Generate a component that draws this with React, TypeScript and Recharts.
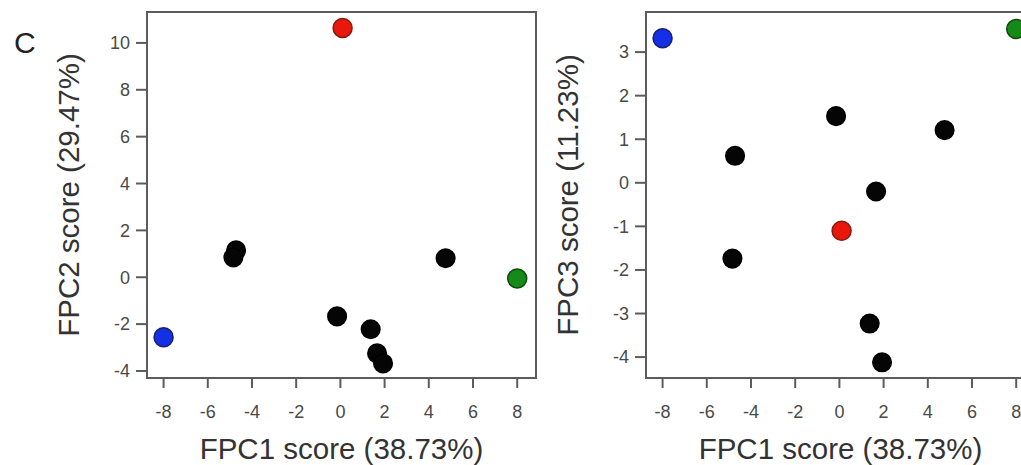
import React from 'react';
import {
  ScatterChart,
  Scatter,
  XAxis,
  YAxis,
  ReferenceArea,
} from 'recharts';

// Sample scores (black points)
const fpc1 = [-4.72, -4.84, -0.15, 4.76, 1.37, 1.66, 1.93];
const fpc2 = [1.15, 0.85, -1.67, 0.81, -2.22, -3.25, -3.68];
const fpc3 = [0.62, -1.74, 1.53, 1.21, -3.23, -0.2, -4.12];

// Highlighted samples
const highlightKeys = ['red', 'blue', 'green'];
const highlightFpc1 = [0.1, -8.0, 8.0];
const highlightFpc2 = [10.64, -2.56, -0.05];
const highlightFpc3 = [-1.1, 3.32, 3.53];

const xTicks = [-8, -6, -4, -2, 0, 2, 4, 6, 8];
const fpc2Ticks = [-4, -2, 0, 2, 4, 6, 8, 10];
const fpc3Ticks = [-4, -3, -2, -1, 0, 1, 2, 3];

const xDomain: [number, number] = [-8.75, 8.85];
const fpc2Domain: [number, number] = [-4.3, 11.32];
const fpc3Domain: [number, number] = [-4.48, 3.92];

const dotStyles: Record<string, { fill: string; stroke: string; r: number }> = {
  black: { fill: '#050505', stroke: '#000', r: 9.3 },
  red: { fill: '#e8180c', stroke: '#8a1a10', r: 9.5 },
  blue: { fill: '#1430e6', stroke: '#1a1d70', r: 9.5 },
  green: { fill: '#168a16', stroke: '#0d4a0d', r: 9.5 },
};

const AXIS = '#5c5c5c';
const TICK_TEXT = '#4a4a4a';
const W = 560;
const H = 465;

const dot = (key: string) => (p: any) => {
  const s = dotStyles[key];
  return <circle cx={p.cx} cy={p.cy} r={s.r} fill={s.fill} stroke={s.stroke} strokeWidth={1.5} />;
};

const XTitle = ({ viewBox }: any) => (
  <text
    x={viewBox.x + viewBox.width / 2}
    y={459}
    textAnchor="middle"
    fontSize={29.5}
    fill="#333"
  >
    FPC1 score (38.73%)
  </text>
);

const yTitle = (value: string) => ({ viewBox }: any) => {
  const cx = 79;
  const cy = viewBox.y + viewBox.height / 2;
  return (
    <text
      x={cx}
      y={cy}
      transform={`rotate(-90, ${cx}, ${cy})`}
      textAnchor="middle"
      fontSize={29.5}
      fill="#333"
    >
      {value}
    </text>
  );
};

interface PanelProps {
  ys: number[];
  highlightYs: number[];
  yDomain: [number, number];
  yTicks: number[];
  yLabel: string;
}

const Panel: React.FC<PanelProps> = ({ ys, highlightYs, yDomain, yTicks, yLabel }) => {
  const black = fpc1.map((x, i) => ({ x, y: ys[i] }));
  return (
    <ScatterChart width={W} height={H} margin={{ top: 12, right: 24, bottom: 0, left: 0 }}>
      <XAxis
        type="number"
        dataKey="x"
        domain={xDomain}
        ticks={xTicks}
        allowDataOverflow
        height={87}
        stroke={AXIS}
        strokeWidth={2}
        tickSize={10}
        tickMargin={17}
        tick={{ fill: TICK_TEXT, fontSize: 18 }}
        tickLine={{ stroke: AXIS, strokeWidth: 2 }}
        label={<XTitle />}
      />
      <YAxis
        type="number"
        dataKey="y"
        domain={yDomain}
        ticks={yTicks}
        allowDataOverflow
        width={147}
        stroke={AXIS}
        strokeWidth={2}
        tickSize={11}
        tickMargin={6}
        tick={{ fill: TICK_TEXT, fontSize: 18 }}
        tickLine={{ stroke: AXIS, strokeWidth: 2 }}
        label={yTitle(yLabel)}
      />
      <ReferenceArea
        x1={xDomain[0]}
        x2={xDomain[1]}
        y1={yDomain[0]}
        y2={yDomain[1]}
        fill="none"
        stroke={AXIS}
        strokeWidth={2}
        ifOverflow="visible"
      />
      <Scatter data={black} shape={dot('black')} isAnimationActive={false} />
      {highlightKeys.map((k, i) => (
        <Scatter
          key={k}
          data={[{ x: highlightFpc1[i], y: highlightYs[i] }]}
          shape={dot(k)}
          isAnimationActive={false}
        />
      ))}
    </ScatterChart>
  );
};

export default function App() {
  return (
    <div
      style={{
        position: 'absolute',
        left: 0,
        top: 0,
        width: 1021,
        height: H,
        overflow: 'hidden',
        background: '#fff',
        fontFamily: '"Liberation Sans", Arial, sans-serif',
      }}
    >
      <svg width={60} height={70} style={{ position: 'absolute', left: 0, top: 0 }}>
        <text x={14} y={53} fontSize={30} fill="#222">C</text>
      </svg>
      <div style={{ position: 'absolute', left: 0, top: 0 }}>
        <Panel ys={fpc2} highlightYs={highlightFpc2} yDomain={fpc2Domain} yTicks={fpc2Ticks} yLabel="FPC2 score (29.47%)" />
      </div>
      <div style={{ position: 'absolute', left: 499, top: 0 }}>
        <Panel ys={fpc3} highlightYs={highlightFpc3} yDomain={fpc3Domain} yTicks={fpc3Ticks} yLabel="FPC3 score (11.23%)" />
      </div>
    </div>
  );
}
